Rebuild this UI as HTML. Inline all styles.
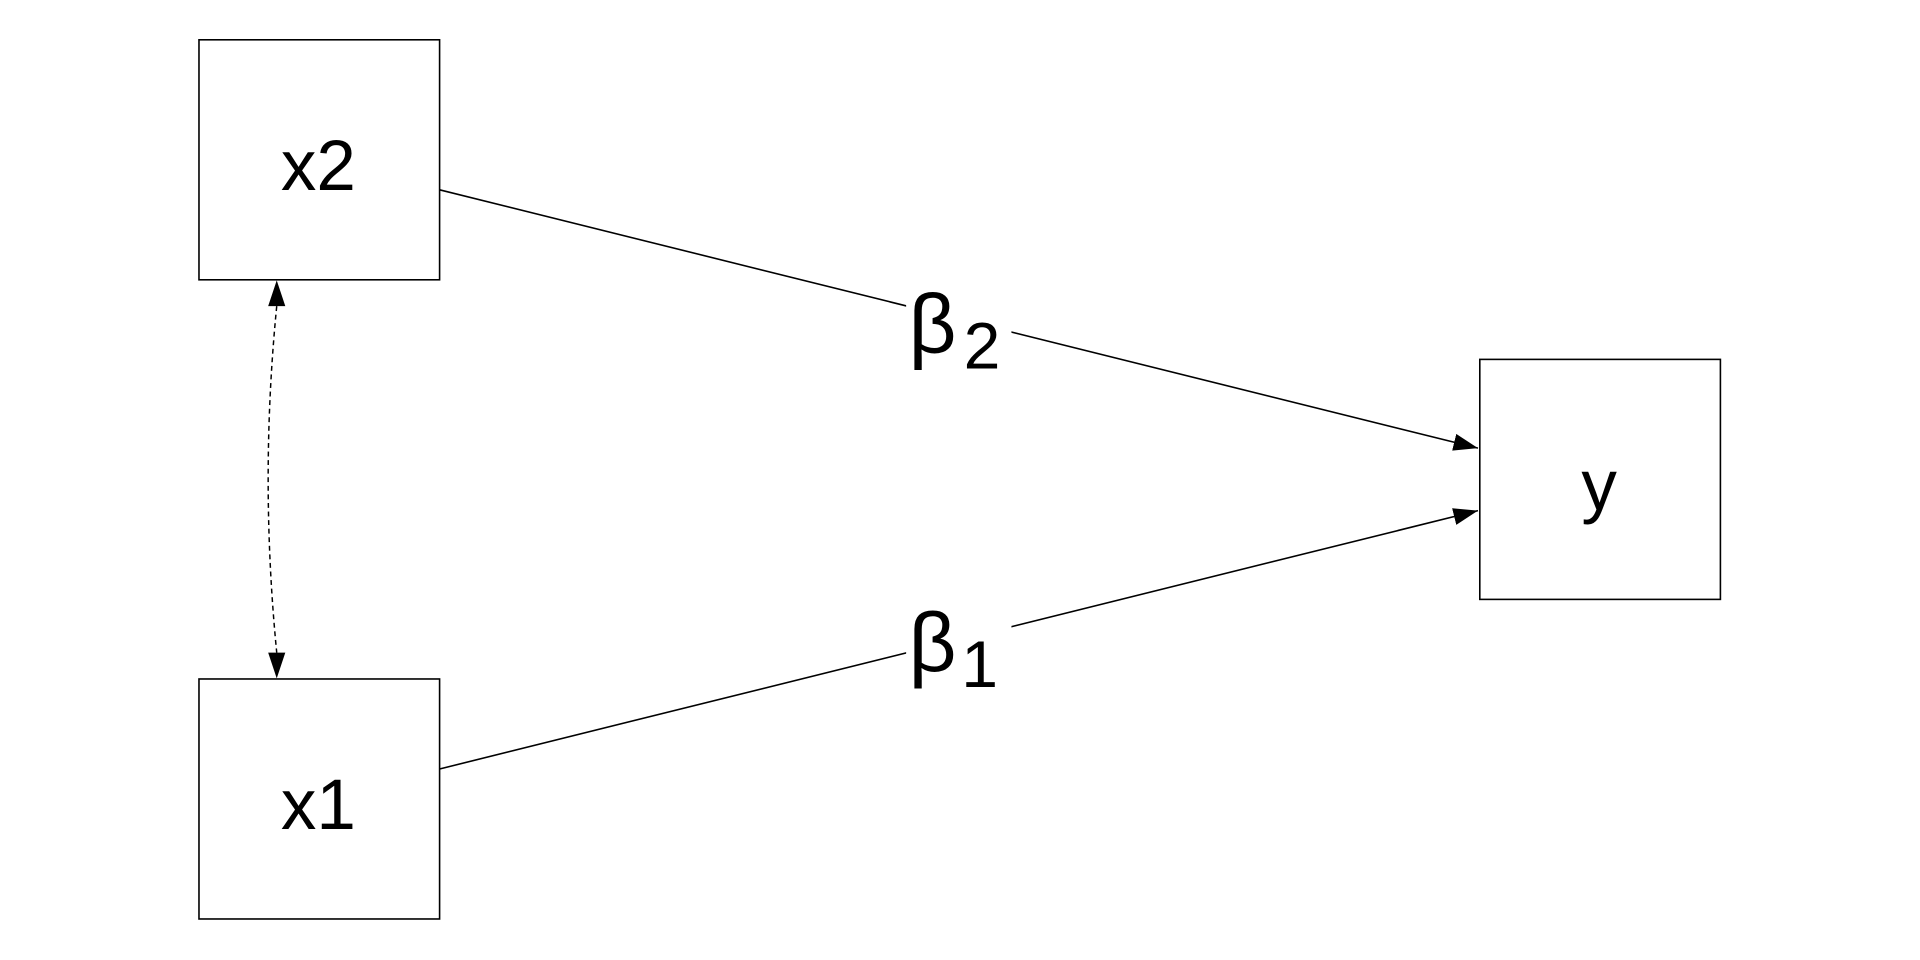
<!DOCTYPE html>
<html><head><meta charset="utf-8"><style>
html,body{margin:0;padding:0;background:#fff;width:1920px;height:960px;overflow:hidden}
svg{display:block}
text{font-family:"Liberation Sans",sans-serif;fill:#000}
</style></head><body>
<svg width="1920" height="960" viewBox="0 0 1568 784" xmlns="http://www.w3.org/2000/svg">
<defs>
<marker id="a" markerWidth="20" markerHeight="14" refX="20" refY="7" orient="auto" markerUnits="userSpaceOnUse">
<path d="M0,0 L20,7 L0,14 z" fill="#000"/>
</marker>
</defs>
<rect x="162.5" y="32.5" width="196.5" height="196" fill="#fff" stroke="#000" stroke-width="1.3"/>
<rect x="162.5" y="554.5" width="196.5" height="196" fill="#fff" stroke="#000" stroke-width="1.3"/>
<rect x="1208.5" y="293.5" width="196.5" height="196" fill="#fff" stroke="#000" stroke-width="1.3"/>
<text x="260" y="155" font-size="58" text-anchor="middle">x2</text>
<text x="260" y="677" font-size="58" text-anchor="middle">x1</text>
<text x="1306" y="416" font-size="58" text-anchor="middle">y</text>
<line x1="359" y1="155" x2="1207" y2="366" stroke="#000" stroke-width="1.3" marker-end="url(#a)"/>
<line x1="359" y1="628" x2="1207" y2="417" stroke="#000" stroke-width="1.3" marker-end="url(#a)"/>
<rect x="740" y="228" width="86" height="76" fill="#fff"/>
<rect x="740" y="488" width="86" height="76" fill="#fff"/>
<text x="742" y="288" font-size="68">β</text>
<text x="787" y="301" font-size="54">2</text>
<text x="742" y="548" font-size="68">β</text>
<text x="785" y="561" font-size="54">1</text>
<path d="M226,250 Q212,391 226,533" fill="none" stroke="#000" stroke-width="1.2" stroke-dasharray="4,3"/>
<path d="M226,229 L219,250 L233,250 z" fill="#000"/>
<path d="M226,554 L219,533 L233,533 z" fill="#000"/>
</svg>
</body></html>
